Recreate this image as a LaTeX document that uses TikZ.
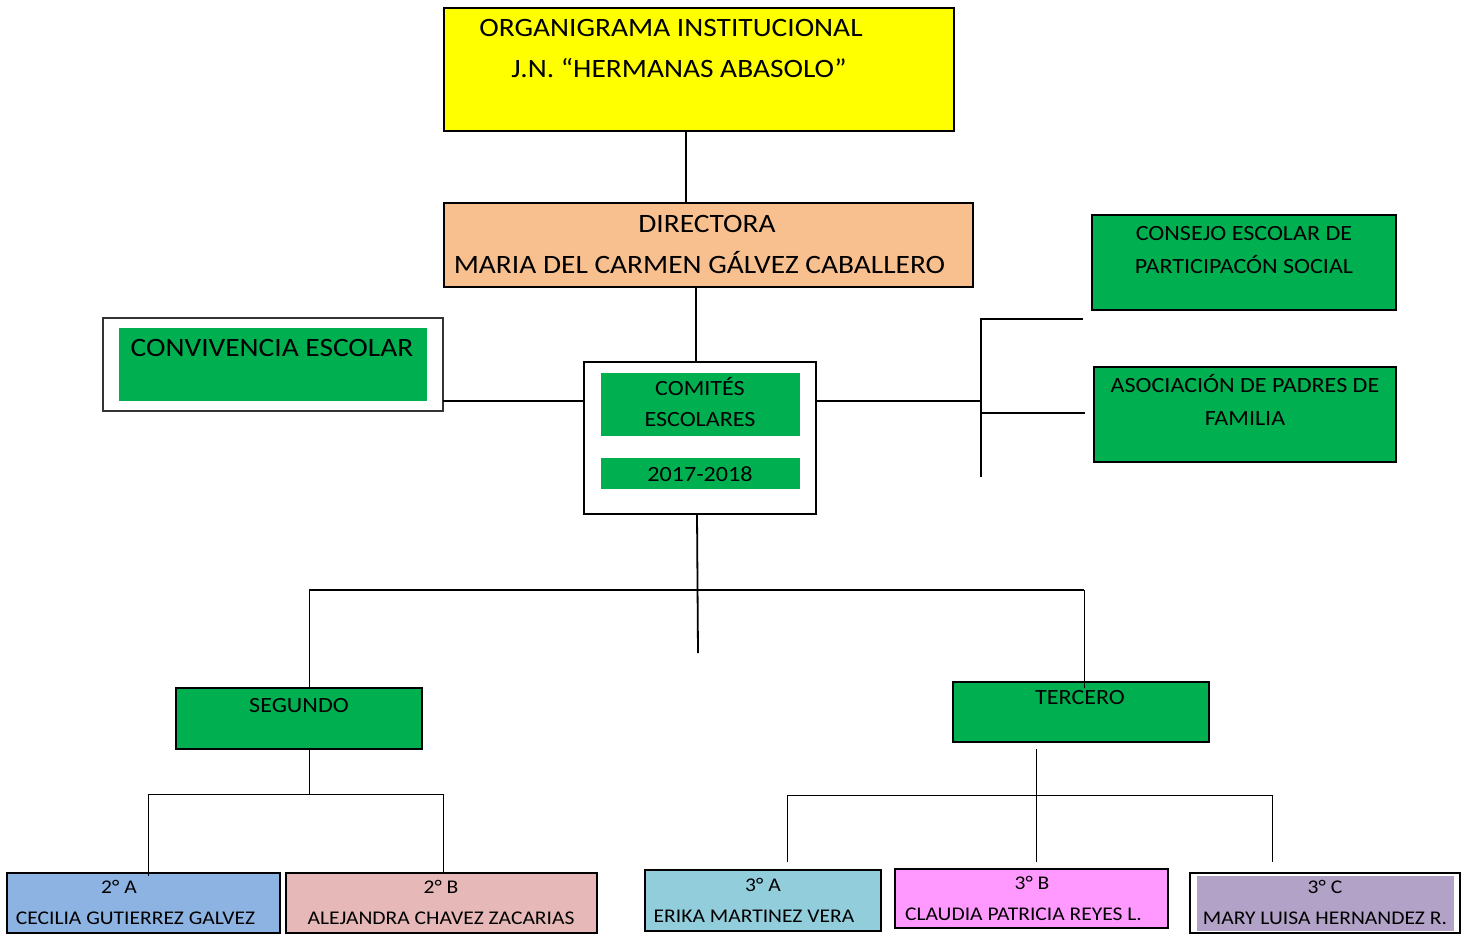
\documentclass[tikz,border=0pt]{standalone}
\usepackage{fontspec}
\setmainfont{Carlito}[FakeStretch=1.11]
\definecolor{ylw}{HTML}{FFFF00}
\definecolor{peach}{HTML}{F9C08F}
\definecolor{grn}{HTML}{00B050}
\definecolor{blu}{HTML}{8DB3E2}
\definecolor{rose}{HTML}{E6B9B8}
\definecolor{aqua}{HTML}{92CDDC}
\definecolor{pink}{HTML}{FF99FF}
\definecolor{lilac}{HTML}{B2A2C7}
\newcommand{\bx}[6]{\node[boxshape,#6,minimum width={(#4-#2)*1pt},minimum height={(#5-#3)*1pt}] (#1) at ({(#2+#4)/2},{(#3+#5)/2}) {};}
\newcommand{\fs}[1]{\fontsize{#1}{#1}\selectfont}
\tikzset{
  boxshape/.style={draw=black,line width=1.6pt,inner sep=0pt,outer sep=0pt,rectangle},
  ln/.style={draw=black,line width=1.8pt},
  thin/.style={draw=black,line width=1pt},
  big/.style={anchor=base,inner sep=0pt,font=\fs{26.5}},
  mid/.style={anchor=base,inner sep=0pt,font=\fs{21.7}},
  sml/.style={anchor=base,inner sep=0pt,font=\fs{19.4}},
}
\begin{document}
\begin{tikzpicture}[x=1pt,y=-1pt]
\useasboundingbox[fill=white] (0,0) rectangle (1470,935);
% boxes
\bx{title}{444}{8}{954}{131}{fill=ylw}
\bx{dir}{444}{203}{973}{287}{fill=peach}
\bx{com}{584}{362}{816}{514}{fill=white}
\bx{comA}{601}{373}{800}{436}{fill=grn,draw=none}
\bx{comB}{601}{458}{800}{489}{fill=grn,draw=none}
\bx{conv}{103}{318}{443}{411}{fill=white,line width=1.2pt,draw=black!80}
\bx{convin}{119}{328}{427}{401}{fill=grn,draw=none}
\bx{cons}{1092}{215}{1396}{310}{fill=grn}
\bx{asoc}{1094}{367}{1396}{462}{fill=grn}
\bx{seg}{176}{688}{422}{749}{fill=grn}
\bx{ter}{953}{682}{1209}{742}{fill=grn}
\bx{sa}{7}{873}{280}{933}{fill=blu}
\bx{sb}{286}{873}{597}{933}{fill=rose}
\bx{ta}{645}{870}{881}{931}{fill=aqua}
\bx{tb}{895}{869}{1168}{928}{fill=pink}
\bx{tc}{1190}{873}{1460}{933}{fill=white,line width=2.4pt}
\bx{tcin}{1197}{876}{1454}{931}{fill=lilac,draw=none}
% coordinates
\coordinate (x686) at (686,0);
\coordinate (x696) at (696,0);
\coordinate (x697) at (697,0);
\coordinate (y401) at (0,401);
\coordinate (br) at (981,401);
\coordinate (busT) at (981,319);
\coordinate (busB) at (981,477);
\coordinate (consL) at (1083,319);
\coordinate (asocL) at (1085,413);
\coordinate (busM) at (981,413);
\coordinate (stub) at (698,653);
\coordinate (hL) at (309,590);
\coordinate (hM) at (697,590);
\coordinate (hR) at (1084,590);
\coordinate (terIn) at (1083,688);
\coordinate (s1) at (309,794);
\coordinate (sL) at (148,794);
\coordinate (sR) at (443,794);
\coordinate (saT) at (148,876);
\coordinate (t0) at (1036,749);
\coordinate (t1) at (1036,795);
\coordinate (tL) at (787,795);
\coordinate (tR) at (1272,795);
\coordinate (taT) at (787,862);
\coordinate (tbT) at (1036,862);
\coordinate (tcT) at (1272,862);
% connectors
\draw[ln] (title.south -| x686) -- (dir.north -| x686);
\draw[ln] (dir.south -| x696) -- (com.north -| x696);
\draw[ln] (conv.east |- y401) -- (com.west |- y401);
\draw[ln] (com.east |- y401) -- (br);
\draw[ln] (busT) -- (busB);
\draw[ln] ([xshift=-1pt]busT) -- (consL);
\draw[ln] (busM) -- (asocL);
\draw[ln] (com.south -| x697) -- (stub);
\draw[ln] (hL) -- (hR);
\draw[thin] (hL) -- (seg.north -| hL);
\draw[thin] (hR) -- (hR |- terIn);
\draw[thin] (seg.south -| s1) -- (s1);
\draw[thin] (sL) -- (sR);
\draw[thin] (sL) -- (saT);
\draw[thin] (sR) -- (sb.north -| sR);
\draw[thin] (t0) -- (tbT);
\draw[thin] (tL) -- (tR);
\draw[thin] (tL) -- (taT);
\draw[thin] (tR) -- (tcT);
% texts
\node[big] (tt1) at (671,36) {ORGANIGRAMA INSTITUCIONAL};
\node[big] (tt2) at (679,77) {J.N. “HERMANAS ABASOLO”};
\node[big] (dt1) at (707,232) {DIRECTORA};
\node[big] (dt2) at (699.5,273) {MARIA DEL CARMEN GÁLVEZ CABALLERO};
\node[big] (cvt) at (272,356) {CONVIVENCIA ESCOLAR};
\node[mid] (ct1) at (700,395) {COMITÉS};
\node[mid] (ct2) at (700,426) {ESCOLARES};
\node[mid] (ct3) at (700,481) {2017-2018};
\node[mid] (cs1) at (1244,240) {CONSEJO ESCOLAR DE};
\node[mid] (cs2) at (1244,273) {PARTICIPACÓN SOCIAL};
\node[mid] (as1) at (1245,392) {ASOCIACIÓN DE PADRES DE};
\node[mid] (as2) at (1245,425) {FAMILIA};
\node[mid] (sgt) at (299,712) {SEGUNDO};
\node[mid] (tet) at (1080,704) {TERCERO};
\node[sml] (sa1) at (119,893) {2° A};
\node[sml] (sa2) at (135.5,924) {CECILIA GUTIERREZ GALVEZ};
\node[sml] (sb1) at (441,893) {2° B};
\node[sml] (sb2) at (441,924) {ALEJANDRA CHAVEZ ZACARIAS};
\node[sml] (ta1) at (763,891) {3° A};
\node[sml] (ta2) at (754,922) {ERIKA MARTINEZ VERA};
\node[sml] (tb1) at (1032,889) {3° B};
\node[sml] (tb2) at (1023.5,920) {CLAUDIA PATRICIA REYES L.};
\node[sml] (tc1) at (1325,893) {3° C};
\node[sml] (tc2) at (1325,924) {MARY LUISA HERNANDEZ R.};
\end{tikzpicture}
\end{document}
